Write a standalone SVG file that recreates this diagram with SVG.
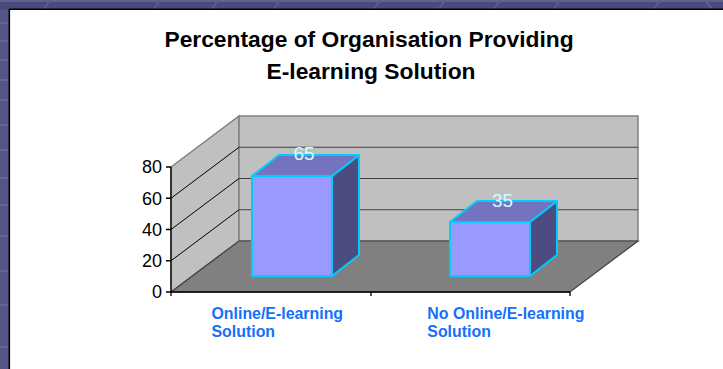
<svg xmlns="http://www.w3.org/2000/svg" width="723" height="369" viewBox="0 0 723 369">
<style>
  .title{font-family:"Liberation Sans",Arial,sans-serif;font-weight:bold;font-size:22.8px;fill:#000;text-anchor:middle}
  .tick{font-family:"Liberation Sans",Arial,sans-serif;font-size:18px;fill:#000;text-anchor:end}
  .val{font-family:"Liberation Sans",Arial,sans-serif;font-size:19px;fill:#ccffff;text-anchor:middle}
  .cat{font-family:"Liberation Sans",Arial,sans-serif;font-weight:bold;font-size:15.9px;fill:#1470fa}
  .wall{fill:#c0c0c0;stroke:#808080;stroke-width:1.5}
  .grid{stroke:#404040;stroke-width:1.2;fill:none}
  .diag{stroke:#000;stroke-width:1;fill:none}
  .front{fill:#9999ff;stroke:#00ccff;stroke-width:2;stroke-linejoin:round}
  .top{fill:#7373bf;stroke:#00ccff;stroke-width:2;stroke-linejoin:round}
  .side{fill:#4c4c80;stroke:#00ccff;stroke-width:2;stroke-linejoin:round}
  .axis{stroke:#000;stroke-width:1.3;fill:none}
  .band{stroke:#7070a0;stroke-width:1.2}
</style>
<!-- background frame -->
<rect x="0" y="0" width="723" height="369" fill="#55558a"/>
<rect x="0" y="0" width="723" height="10" fill="#4b4b7b"/>
<rect x="0" y="0" width="723" height="2" fill="#62628f"/>
<g class="band">
  <line x1="0" y1="23" x2="9" y2="23"/><line x1="0" y1="41" x2="9" y2="41"/>
  <line x1="0" y1="60" x2="9" y2="60"/><line x1="0" y1="80" x2="9" y2="80"/>
  <line x1="0" y1="100" x2="9" y2="100"/><line x1="0" y1="125" x2="9" y2="125"/>
  <line x1="0" y1="150" x2="9" y2="150"/><line x1="0" y1="178" x2="9" y2="178"/>
  <line x1="0" y1="205" x2="9" y2="205"/><line x1="0" y1="236" x2="9" y2="236"/>
  <line x1="0" y1="271" x2="9" y2="271"/><line x1="0" y1="305" x2="9" y2="305"/>
  <line x1="0" y1="347" x2="9" y2="347"/>
</g>
<g stroke="#5e5e8e" stroke-width="2">
  <line x1="50" y1="0" x2="44" y2="9"/><line x1="160" y1="0" x2="154" y2="9"/>
  <line x1="218" y1="0" x2="212" y2="9"/><line x1="280" y1="0" x2="274" y2="9"/>
  <line x1="380" y1="0" x2="374" y2="9"/><line x1="445" y1="0" x2="439" y2="9"/>
  <line x1="500" y1="0" x2="494" y2="9"/><line x1="560" y1="0" x2="554" y2="9"/>
  <line x1="660" y1="0" x2="654" y2="9"/><line x1="705" y1="0" x2="712" y2="9"/>
</g>
<rect x="10" y="10" width="713" height="359" fill="#ffffff"/>
<line x1="9.3" y1="9" x2="9.3" y2="369" stroke="#000" stroke-width="1.6"/>
<line x1="9" y1="9.3" x2="723" y2="9.3" stroke="#000" stroke-width="1.6"/>

<!-- title -->
<g id="title">
  <text class="title" x="369" y="47">Percentage of Organisation Providing</text>
  <text class="title" x="371" y="79">E-learning Solution</text>
</g>

<!-- chart walls and floor -->
<g id="plot-area">
  <polygon class="wall" points="171,167 239,116 239,241 171,292"/>
  <polygon class="wall" points="239,116 638,116 638,241 239,241"/>
  <polygon points="171,292 239,241 638,241 570,292" fill="#808080" stroke="#404040" stroke-width="1.2"/>
  <g class="grid">
    <line x1="239" y1="147.25" x2="638" y2="147.25"/>
    <line x1="239" y1="178.5" x2="638" y2="178.5"/>
    <line x1="239" y1="209.75" x2="638" y2="209.75"/>
  </g>
  <g class="diag">
    <line x1="171" y1="198.25" x2="239" y2="147.25"/>
    <line x1="171" y1="229.5" x2="239" y2="178.5"/>
    <line x1="171" y1="260.75" x2="239" y2="209.75"/>
  </g>
</g>

<!-- axes -->
<g id="axes">
  <path class="axis" d="M171,167 V292 H570"/>
  <path class="axis" d="M166,167 H171 M166,198.25 H171 M166,229.5 H171 M166,260.75 H171 M166,292 H171"/>
  <path class="axis" d="M171,292 V296 M371,292 V296 M570,292 V296"/>
  <text class="tick" x="162" y="173.3">80</text>
  <text class="tick" x="162" y="204.6">60</text>
  <text class="tick" x="162" y="235.8">40</text>
  <text class="tick" x="162" y="267">20</text>
  <text class="tick" x="162" y="298.3">0</text>
</g>

<!-- bars -->
<g id="bar-online">
  <polygon class="side" points="332,176 359,155 359,255 332,276"/>
  <polygon class="top" points="252,176 279,155 359,155 332,176"/>
  <rect class="front" x="252" y="176" width="80" height="100"/>
  <text class="val" x="304" y="159.5">65</text>
</g>
<g id="bar-no-online">
  <polygon class="side" points="530,222 557,201 557,255 530,276"/>
  <polygon class="top" points="450,222 477,201 557,201 530,222"/>
  <rect class="front" x="450" y="222" width="80" height="54"/>
  <text class="val" x="502.5" y="206.7">35</text>
</g>

<!-- category labels -->
<g id="cat-online">
  <text class="cat" x="211.5" y="319">Online/E-learning</text>
  <text class="cat" x="211.5" y="336.5">Solution</text>
</g>
<g id="cat-no-online">
  <text class="cat" x="427.3" y="319">No Online/E-learning</text>
  <text class="cat" x="427.3" y="336.5">Solution</text>
</g>
</svg>
